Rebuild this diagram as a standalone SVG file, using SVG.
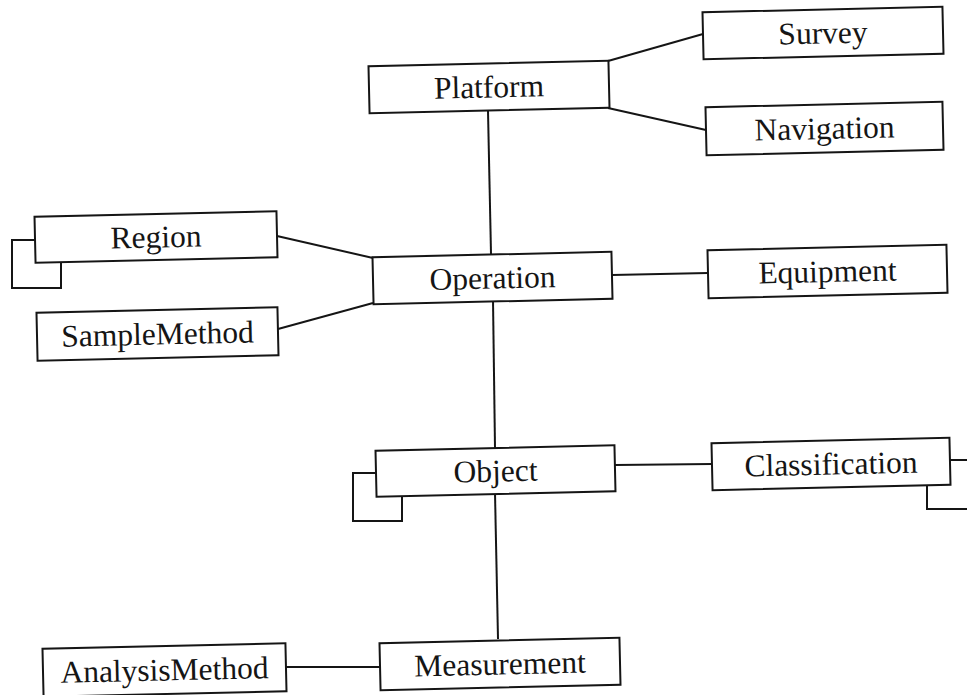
<svg xmlns="http://www.w3.org/2000/svg" width="967" height="695" viewBox="0 0 967 695">
  <style>
    .box { fill: #ffffff; stroke: #151515; stroke-width: 2; }
    .lbl { font-family: "Liberation Serif", "Times New Roman", serif; font-size: 31.5px; fill: #151515; text-anchor: middle; }
    .link { fill: none; stroke: #151515; stroke-width: 2; }
  </style>
  <rect width="967" height="695" fill="#ffffff"/>

  <!-- associations between entities -->
  <g id="connectors">
    <line class="link" x1="608" y1="61" x2="703" y2="34"/>
    <line class="link" x1="608" y1="108" x2="706" y2="130"/>
    <line class="link" x1="488" y1="111" x2="491" y2="254"/>
    <line class="link" x1="277" y1="236" x2="373" y2="258"/>
    <line class="link" x1="278" y1="329" x2="373" y2="303"/>
    <line class="link" x1="612" y1="275" x2="708" y2="273"/>
    <line class="link" x1="493" y1="300" x2="495" y2="448"/>
    <line class="link" x1="615" y1="465" x2="712" y2="464"/>
    <line class="link" x1="495" y1="493" x2="498" y2="639"/>
    <line class="link" x1="286" y1="667" x2="380" y2="667"/>
    <!-- recursive (self) associations -->
    <polyline class="link" points="35,240 12,240 12,288 61,288 61,262"/>
    <polyline class="link" points="376,473 353,473 353,521 402,521 402,494"/>
    <polyline class="link" points="950,460 967,460"/>
    <polyline class="link" points="927,486 927,509 967,509"/>
  </g>

  <g id="platform" transform="rotate(-1.3 489 87)">
    <rect class="box" x="369" y="63.5" width="240" height="47"/>
    <text class="lbl" x="489" y="97.5">Platform</text>
  </g>
  <g id="survey" transform="rotate(-1.3 823 33)">
    <rect class="box" x="703" y="9.5" width="240" height="47"/>
    <text class="lbl" x="823" y="43.5">Survey</text>
  </g>
  <g id="navigation" transform="rotate(-1.3 824.5 128.5)">
    <rect class="box" x="706" y="104.5" width="237" height="48"/>
    <text class="lbl" x="824.5" y="139">Navigation</text>
  </g>
  <g id="region" transform="rotate(-1.3 156 237)">
    <rect class="box" x="35" y="214" width="242" height="46"/>
    <text class="lbl" x="156" y="247.5">Region</text>
  </g>
  <g id="operation" transform="rotate(-1.3 492.5 278)">
    <rect class="box" x="373" y="254.5" width="239" height="47"/>
    <text class="lbl" x="492.5" y="288.5">Operation</text>
  </g>
  <g id="equipment" transform="rotate(-1.3 827.5 271.5)">
    <rect class="box" x="708" y="247.5" width="239" height="48"/>
    <text class="lbl" x="827.5" y="282">Equipment</text>
  </g>
  <g id="samplemethod" transform="rotate(-1.3 157.5 334)">
    <rect class="box" x="37" y="310" width="241" height="48"/>
    <text class="lbl" x="157.5" y="344.5">SampleMethod</text>
  </g>
  <g id="object" transform="rotate(-1.3 495.5 471)">
    <rect class="box" x="376" y="448" width="239" height="46"/>
    <text class="lbl" x="495.5" y="481.5">Object</text>
  </g>
  <g id="classification" transform="rotate(-1.3 831 464)">
    <rect class="box" x="712" y="440.5" width="238" height="47"/>
    <text class="lbl" x="831" y="474.5">Classification</text>
  </g>
  <g id="measurement" transform="rotate(-1.3 500 664)">
    <rect class="box" x="380" y="640.5" width="240" height="47"/>
    <text class="lbl" x="500" y="674.5">Measurement</text>
  </g>
  <g id="analysismethod" transform="rotate(-1.3 164.5 670)">
    <rect class="box" x="43" y="646" width="243" height="48"/>
    <text class="lbl" x="164.5" y="680.5">AnalysisMethod</text>
  </g>
</svg>
